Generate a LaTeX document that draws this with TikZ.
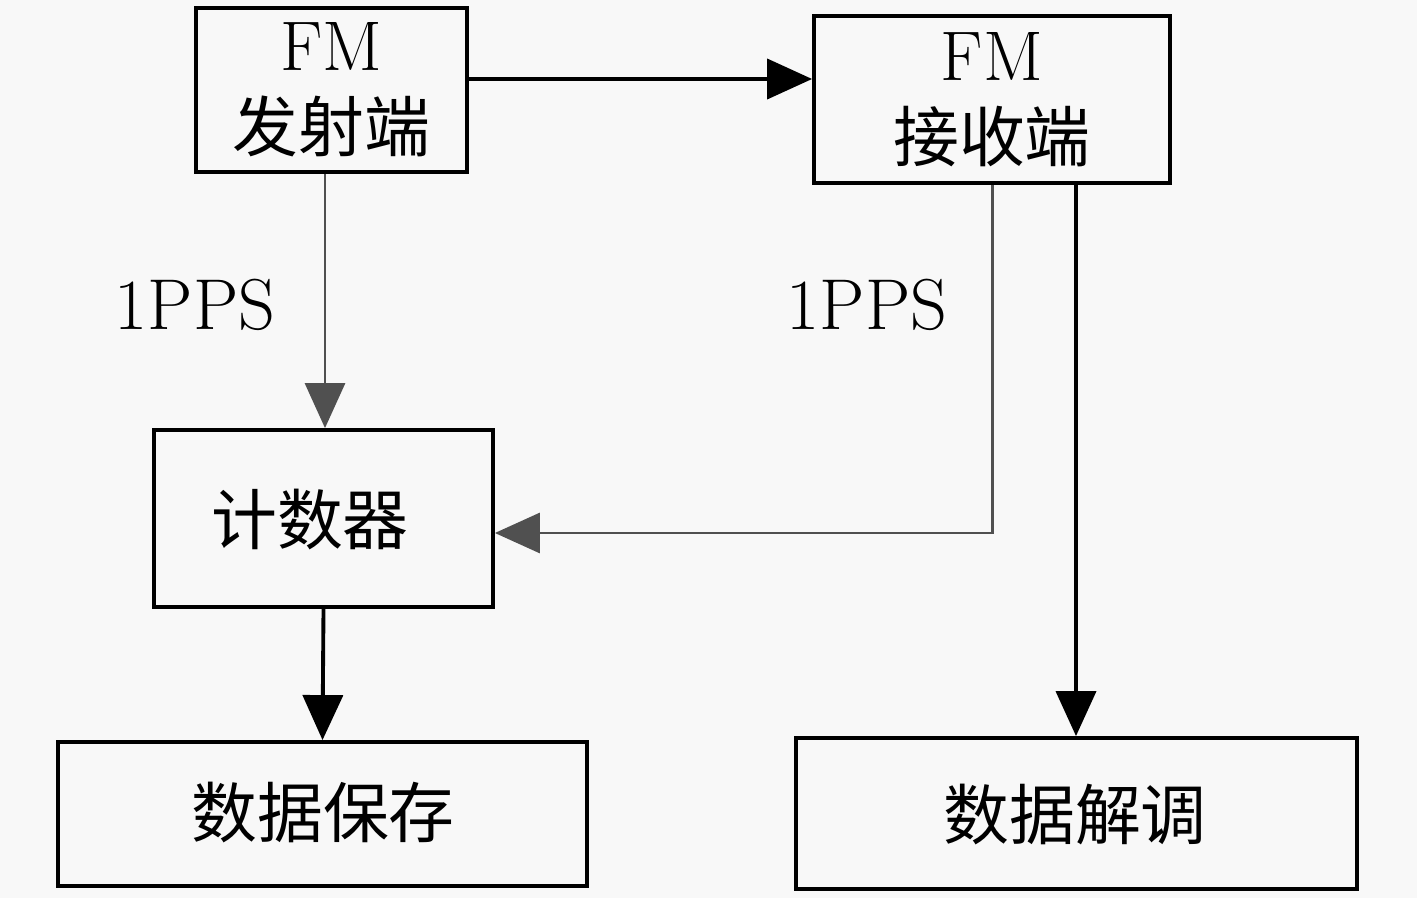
\documentclass[tikz,border=0pt]{standalone}
\usepackage{fontspec}
\newfontfamily\cjk{Noto Sans CJK SC}
\usetikzlibrary{arrows.meta}
\definecolor{bgc}{RGB}{248,248,248}
\definecolor{grayline}{RGB}{80,80,80}
\begin{document}
\begin{tikzpicture}[x=0.02cm,y=-0.02cm,
  box/.style={draw=black,line width=2.2pt,inner sep=0pt,align=center,
    font=\fontsize{40}{50}\selectfont},
  cjkt/.style={font=\fontsize{37.5}{40}\selectfont\cjk,inner sep=0pt},
  blk/.style={line width=2.2pt,-{Triangle[length=0.9cm,width=0.8cm]}},
  gry/.style={draw=grayline,line width=1.7pt,-{Triangle[length=0.9cm,width=0.8cm]}},
  lbl/.style={font=\fontsize{41}{44}\selectfont,inner sep=0pt}]
\fill[bgc] (0,0) rectangle (1417,898);
\useasboundingbox (0,0) rectangle (1417,898);
\node[box,minimum width=5.42cm,minimum height=3.28cm] (tx) at (331.5,90)
  {FM\\[-4pt]{\cjk\fontsize{37.5}{40}\selectfont 发射端}};
\node[box,minimum width=7.12cm,minimum height=3.34cm] (rx) at (992,99.5)
  {FM\\[-4pt]{\cjk\fontsize{37.5}{40}\selectfont 接收端}};
\node[box,minimum width=6.78cm,minimum height=3.54cm] (cnt) at (323.5,518.5) {};
\node[cjkt] (cntt) at (310,520) {计数器};
\node[box,minimum width=10.58cm,minimum height=2.88cm] (save) at (322.5,814) {};
\node[cjkt] (savet) at (323,813) {数据保存};
\node[box,minimum width=11.22cm,minimum height=3.02cm] (dem) at (1076.5,813.5) {};
\node[cjkt] (demt) at (1075,815) {数据解调};
\node[lbl] (l1) at (195,305) {1PPS};
\node[lbl] (l2) at (867,305) {1PPS};
\draw[blk] (tx.east |- 0,79) -- (rx.west |- 0,79);
\draw[gry] (tx.south -| 325,0) -- (cnt.north -| 325,0);
\draw[gry] (rx.south) |- (cnt.east |- 0,533);
\draw[blk] (cnt.south) -- (save.north);
\draw[blk] (rx.south -| 1076,0) -- (dem.north -| 1076,0);
\end{tikzpicture}
\end{document}
